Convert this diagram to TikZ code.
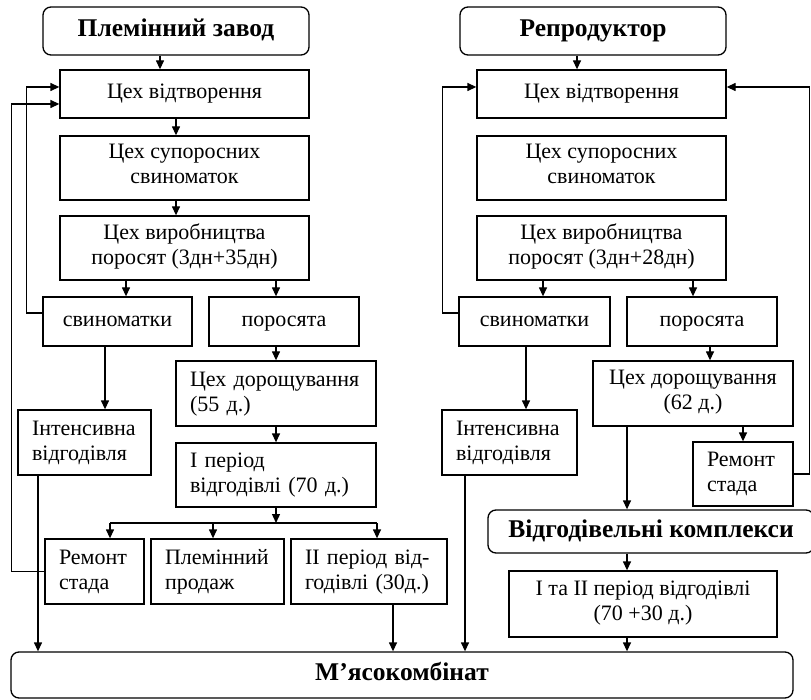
\documentclass[tikz,border=0pt]{standalone}
\usepackage{fontspec}
\setmainfont{Liberation Serif}
\usetikzlibrary{arrows.meta, positioning}

\begin{document}
\begin{tikzpicture}[x=1pt, y=-1pt,
    box/.style={rectangle, draw, line width=1.3pt, inner sep=2pt, align=center,
                font=\fontsize{22}{25}\selectfont,
                execute at begin node=\strut, execute at end node=\strut},
    lbox/.style={box, align=left, inner xsep=14pt},
    head/.style={box, rounded corners=8pt, font=\fontsize{25.5}{28}\selectfont\bfseries},
    arr/.style={-{Triangle[length=9pt, width=8pt]}, line width=1.3pt},
    lin/.style={line width=1.3pt}
  ]
    \useasboundingbox (0,0) rectangle (811,700);

    % left: breeding farm
    \node[head, minimum width=266pt, minimum height=48pt] (zavod) at (176,31) {Племінний завод};
    \node[box, minimum width=249pt, minimum height=48pt] (vidtvL) at (184.5,94) {Цех відтворення};
    \node[box, minimum width=249pt, minimum height=64pt] (suporL) at (184.5,168) {Цех супоросних\\свиноматок};
    \node[box, minimum width=249pt, minimum height=64pt] (vyrobL) at (184.5,248) {Цех виробництва\\поросят (3дн+35дн)};
    \node[box, minimum width=149pt, minimum height=49pt] (svL) at (117.5,321.5) {свиноматки};
    \node[box, minimum width=150pt, minimum height=49pt] (porL) at (284,321.5) {поросята};
    \node[lbox, text width=105pt, minimum height=65pt] (intL) at (84.5,442.5) {Інтенсивна\\відгодівля};
    \node[lbox, text width=172pt, minimum height=65pt] (doroshL) at (276,393.5) {Цех дорощування\\(55 д.)};
    \node[lbox, text width=172pt, minimum height=64pt] (per1L) at (276,475) {I період\\відгодівлі (70 д.)};
    \node[lbox, text width=71pt, minimum height=65pt] (remL) at (94.5,571.5) {Ремонт\\стада};
    \node[lbox, text width=105pt, minimum height=65pt] (prodL) at (217.5,571.5) {Племінний\\продаж};
    \node[lbox, text width=128pt, minimum height=65pt] (per2L) at (369,571.5) {II період від-\\годівлі (30д.)};

    % right: reproducer farm
    \node[head, minimum width=266pt, minimum height=48pt] (repro) at (593,31) {Репродуктор};
    \node[box, minimum width=249pt, minimum height=48pt] (vidtvR) at (601.5,94) {Цех відтворення};
    \node[box, minimum width=249pt, minimum height=64pt] (suporR) at (601.5,168) {Цех супоросних\\свиноматок};
    \node[box, minimum width=249pt, minimum height=64pt] (vyrobR) at (601.5,248) {Цех виробництва\\поросят (3дн+28дн)};
    \node[box, minimum width=151pt, minimum height=49pt] (svR) at (534.5,321.5) {свиноматки};
    \node[box, minimum width=150pt, minimum height=49pt] (porR) at (702,321.5) {поросята};
    \node[lbox, text width=107pt, minimum height=65pt] (intR) at (509.5,442.5) {Інтенсивна\\відгодівля};
    \node[box, minimum width=200pt, minimum height=65pt] (doroshR) at (693,393.5) {Цех дорощування\\(62 д.)};
    \node[lbox, text width=72pt, minimum height=64pt] (remR) at (743,474) {Ремонт\\стада};
    \node[head, minimum width=326pt, minimum height=43pt] (kompl) at (651,531.5) {Відгодівельні комплекси};
    \node[box, minimum width=268pt, minimum height=66pt] (per12R) at (643,604) {I та II період відгодівлі\\(70 +30 д.)};

    % bottom
    \node[head, minimum width=782pt, minimum height=46pt] (myaso) at (402,675) {М’ясокомбінат};

    % vertical guides for the connectors
    \coordinate (xZav) at (160,0);
    \coordinate (xVidL) at (176,0);
    \coordinate (xSvL) at (126,0);
    \coordinate (xPorL) at (276,0);
    \coordinate (xIntL) at (105,0);
    \coordinate (xRemL) at (110,0);
    \coordinate (xProdL) at (213,0);
    \coordinate (xPer2L) at (377,0);
    \coordinate (xOutL) at (38,0);
    \coordinate (xOut2L) at (393,0);
    \coordinate (splitL) at (276,523);
    \coordinate (xRep) at (577,0);
    \coordinate (xSvR) at (543,0);
    \coordinate (xPorR) at (693,0);
    \coordinate (xIntR) at (526,0);
    \coordinate (xDorR) at (710,0);
    \coordinate (xKom) at (627,0);
    \coordinate (xOutR) at (465,0);

    % left connectors
    \draw[arr] (zavod.south -| xZav) -- (vidtvL.north -| xZav);
    \draw[arr] (vidtvL.south -| xVidL) -- (suporL.north -| xVidL);
    \draw[arr] (suporL.south -| xVidL) -- (vyrobL.north -| xVidL);
    \draw[arr] (vyrobL.south -| xSvL) -- (svL.north -| xSvL);
    \draw[arr] (vyrobL.south -| xPorL) -- (porL.north -| xPorL);
    \draw[arr] (porL.south -| xPorL) -- (doroshL.north -| xPorL);
    \draw[arr] (doroshL.south -| xPorL) -- (per1L.north -| xPorL);
    \draw[arr] (per1L.south -| xPorL) -- (splitL);
    \draw[lin] (splitL -| xRemL) -- (splitL -| xPer2L);
    \draw[arr] (splitL -| xRemL) -- (remL.north -| xRemL);
    \draw[arr] (splitL -| xProdL) -- (prodL.north -| xProdL);
    \draw[arr] (splitL -| xPer2L) -- (per2L.north -| xPer2L);
    \draw[arr] (svL.south -| xIntL) -- (intL.north -| xIntL);
    \draw[arr] ([yshift=8.5pt]svL.west) -- ++(-16,0) |- ([yshift=7pt]vidtvL.west);
    \draw[arr] (remL.west) -- ++(-33,0) |- ([yshift=-10pt]vidtvL.west);
    \draw[arr] (intL.south -| xOutL) -- (myaso.north -| xOutL);
    \draw[arr] (per2L.south -| xOut2L) -- (myaso.north -| xOut2L);

    % right connectors
    \draw[arr] (repro.south -| xRep) -- (vidtvR.north -| xRep);
    \draw[arr] (vyrobR.south -| xSvR) -- (svR.north -| xSvR);
    \draw[arr] (vyrobR.south -| xPorR) -- (porR.north -| xPorR);
    \draw[arr] ([yshift=8.5pt]svR.west) -- ++(-16,0) |- ([yshift=7pt]vidtvR.west);
    \draw[arr] (svR.south -| xIntR) -- (intR.north -| xIntR);
    \draw[arr] (porR.south -| xDorR) -- (doroshR.north -| xDorR);
    \draw[arr] (doroshR.south -| remR.north) -- (remR.north);
    \draw[arr] (remR.east) -- ++(16,0) |- ([yshift=7pt]vidtvR.east);
    \draw[arr] (doroshR.south -| xKom) -- (kompl.north -| xKom);
    \draw[arr] (kompl.south -| xKom) -- (per12R.north -| xKom);
    \draw[arr] (per12R.south -| xKom) -- (myaso.north -| xKom);
    \draw[arr] (intR.south -| xOutR) -- (myaso.north -| xOutR);
\end{tikzpicture}
\end{document}
